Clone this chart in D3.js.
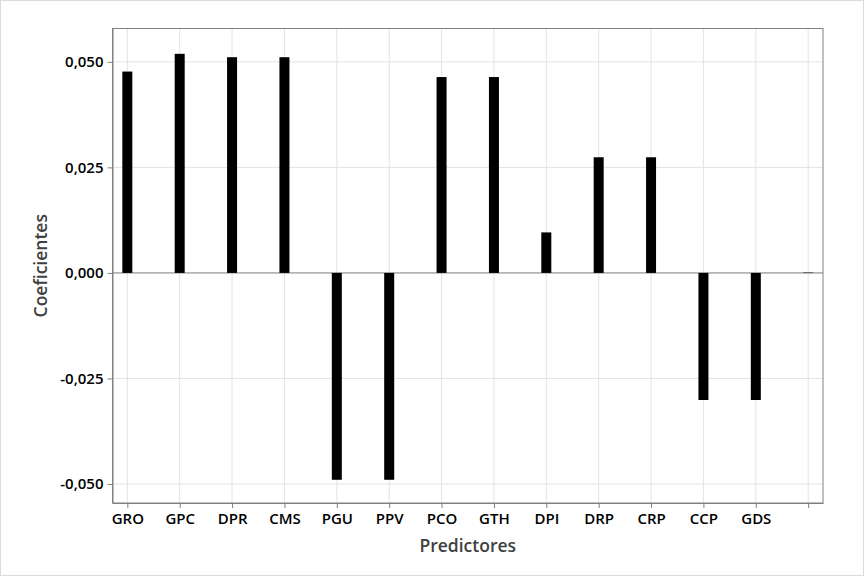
<!DOCTYPE html>
<html><head><meta charset="utf-8">
<script src="https://cdn.jsdelivr.net/npm/d3@7"></script>
<style>body{margin:0;background:#fff}svg{display:block}</style>
</head><body>
<svg id="c" width="864" height="576"></svg>
<script>
const categories = ["GRO","GPC","DPR","CMS","PGU","PPV","PCO","GTH","DPI","DRP","CRP","CCP","GDS",""];
const coefficients = [0.0477,0.0519,0.0511,0.0511,-0.0490,-0.0490,0.0464,0.0464,0.0096,0.0274,0.0274,-0.0301,-0.0301,0.0002];
const yTicks = [-0.05,-0.025,0,0.025,0.05];
const yTickLabels = ["-0,050","-0,025","0,000","0,025","0,050"];

const svg = d3.select("#c");
const W = 864, H = 576;
const m = {l:112.5, r:823, t:28.5, b:503};
const font = "'Open Sans', 'Noto Sans', sans-serif";

svg.append("rect").attr("x",0.5).attr("y",0.5).attr("width",W-1).attr("height",H-1)
  .attr("fill","#fff").attr("stroke","#dcdcdc");

const x = d3.scalePoint().domain(d3.range(categories.length)).range([m.l,m.r]).padding(0.283);
const y = d3.scaleLinear().domain([-0.0545,0.0579]).range([m.b,m.t]);

// grid
const g = svg.append("g");
g.selectAll(".vg").data(d3.range(categories.length)).join("line")
  .attr("x1",d=>x(d)).attr("x2",d=>x(d)).attr("y1",m.t).attr("y2",m.b)
  .attr("stroke","#e3e3e3").attr("stroke-width",1);
g.selectAll(".hg").data(yTicks).join("line")
  .attr("x1",m.l).attr("x2",m.r).attr("y1",d=>y(d)).attr("y2",d=>y(d))
  .attr("stroke","#e3e3e3").attr("stroke-width",1);

// zero line
svg.append("line").attr("x1",m.l).attr("x2",m.r).attr("y1",y(0)).attr("y2",y(0))
  .attr("stroke","#8a8a8a").attr("stroke-width",1);

// bars
const bw = 10;
svg.selectAll(".bar").data(coefficients).join("rect")
  .attr("x",(d,i)=>x(i)-bw/2).attr("width",bw)
  .attr("y",d=>y(Math.max(0,d))).attr("height",d=>Math.max(1,Math.abs(y(d)-y(0))))
  .attr("fill",(d,i)=>Math.abs(d)<0.001?"#666":"#000");

// frame
svg.append("rect").attr("x",m.l).attr("y",m.t).attr("width",m.r-m.l).attr("height",m.b-m.t)
  .attr("fill","none").attr("stroke","#808080").attr("stroke-width",1);

// axes
const yAxis = d3.axisLeft(y).tickValues(yTicks).tickFormat((d,i)=>yTickLabels[i]).tickSize(5).tickSizeOuter(0).tickPadding(4);
const ya = svg.append("g").attr("transform",`translate(${m.l},0)`).call(yAxis);
const xAxis = d3.axisBottom(x).tickFormat(i=>categories[i]).tickSize(5).tickSizeOuter(0).tickPadding(5);
const xa = svg.append("g").attr("transform",`translate(0,${m.b})`).call(xAxis);
[ya,xa].forEach(a=>{
  a.select(".domain").attr("stroke","#808080");
  a.selectAll(".tick line").attr("stroke","#808080");
  a.selectAll("text").attr("fill","#000").style("font-family",font).style("font-size","15px").style("font-weight","600");
});

svg.append("text").attr("x",(m.l+m.r)/2).attr("y",552).attr("text-anchor","middle")
  .style("font-family",font).style("font-size","17.5px").style("font-weight","600").attr("fill","#404040").text("Predictores");
svg.append("text").attr("transform",`translate(47,${(m.t+m.b)/2}) rotate(-90)`).attr("text-anchor","middle")
  .style("font-family",font).style("font-size","17.5px").style("font-weight","600").attr("fill","#404040").text("Coeficientes");
</script>
</body></html>
